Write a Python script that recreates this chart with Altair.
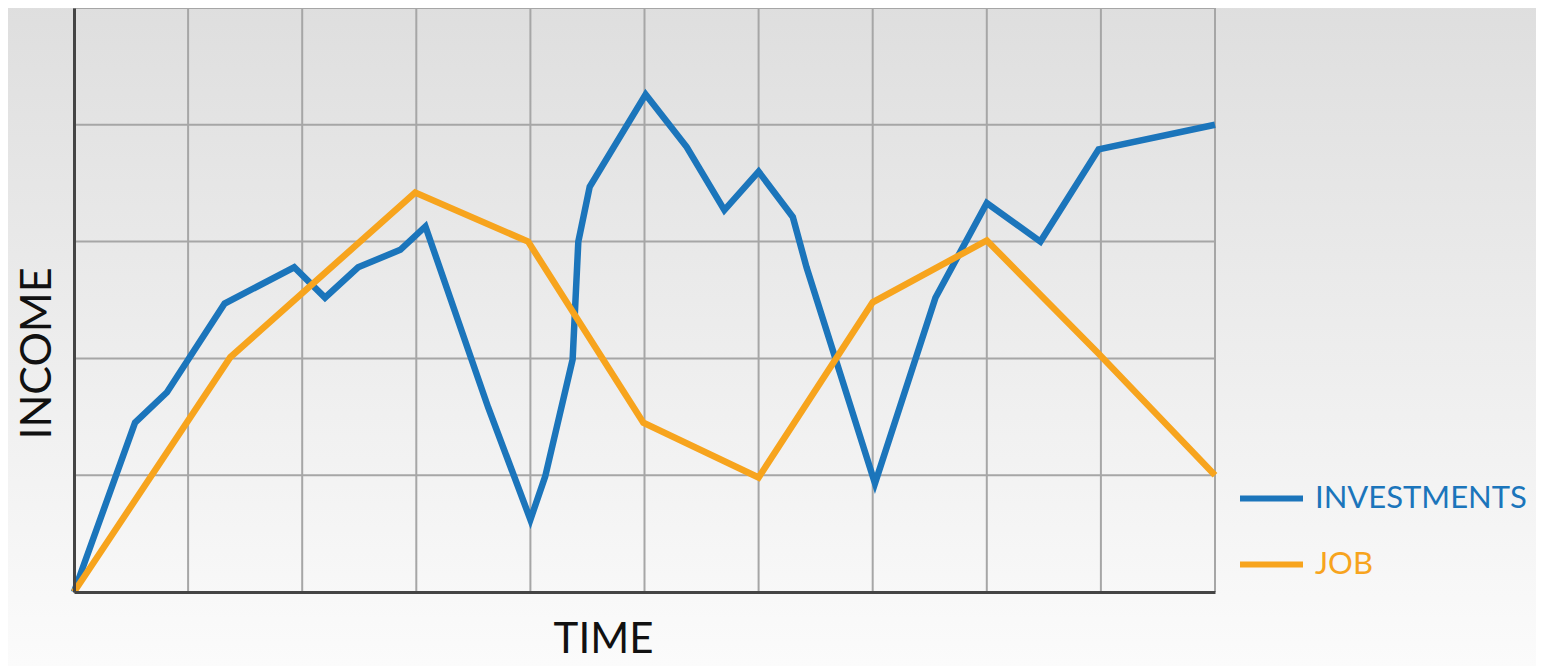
import altair as alt
import pandas as pd

# ---- data (x: time grid units, y: income grid units) ----
inv_t = [0, 0.535, 0.815, 1.32, 1.93, 2.20, 2.49, 2.86, 3.08, 3.63, 4.00, 4.13, 4.37, 4.42,
         4.52, 5.01, 5.37, 5.70, 6.00, 6.30, 6.42, 7.02, 7.55, 8.00, 8.47, 8.98, 10.0]
inv_v = [0, 1.45, 1.71, 2.47, 2.78, 2.52, 2.78, 2.93, 3.13, 1.58, 0.62, 0.99, 1.99, 3.00,
         3.47, 4.26, 3.81, 3.27, 3.60, 3.21, 2.78, 0.93, 2.52, 3.33, 3.00, 3.79, 4.00]
job_t = [0, 1.37, 2.99, 3.98, 4.99, 6.00, 7.00, 8.00, 8.97, 10.0]
job_v = [0, 2.01, 3.42, 3.00, 1.45, 0.98, 2.48, 3.01, 2.05, 1.00]

series_names = ["INVESTMENTS", "JOB"]
series_colors = ["#1b75bb", "#f7a41d"]

x_grid = list(range(0, 11))
y_grid = list(range(0, 6))

W, H = 1141, 584
PAD = {"left": 66, "top": 0, "right": 321, "bottom": 74}

rows = []
for i, (t, v) in enumerate(zip(inv_t, inv_v)):
    rows.append({"series": "INVESTMENTS", "t": t, "v": v, "idx": i})
for i, (t, v) in enumerate(zip(job_t, job_v)):
    rows.append({"series": "JOB", "t": t, "v": v, "idx": i})
df = pd.DataFrame(rows)

xscale = alt.Scale(domain=[0, 10], nice=False, zero=False)
yscale = alt.Scale(domain=[0, 5], nice=False, zero=False)

x_axis = alt.Axis(title="TIME", grid=False, ticks=False, labels=False,
                  domainColor="#444444", domainWidth=3, zindex=1,
                  titleFont="Lato", titleFontSize=42, titleFontWeight="normal",
                  titleColor="#111111", titleX=529, titleY=60,
                  titleBaseline="alphabetic", titleAlign="center")
y_axis = alt.Axis(title="INCOME", grid=False, ticks=False, labels=False,
                  domainColor="#444444", domainWidth=3, zindex=1,
                  titleFont="Lato", titleFontSize=43, titleFontWeight="normal",
                  titleColor="#111111", titleX=-24, titleY=345,
                  titleBaseline="alphabetic", titleAlign="center",
                  titleAngle=270)

gradient = alt.LinearGradient(
    gradient="linear",
    stops=[alt.GradientStop(color="#dedede", offset=0),
           alt.GradientStop(color="#ebebeb", offset=0.45),
           alt.GradientStop(color="#fbfbfb", offset=1)],
    x1=0, x2=0, y1=0, y2=1,
)

bg = alt.Chart(pd.DataFrame({"k": [0]})).mark_rect(color=gradient).encode(
    x=alt.value(-PAD["left"]), x2=alt.value(W + PAD["right"]),
    y=alt.value(-8), y2=alt.value(H + PAD["bottom"]),
)

vgrid = alt.Chart(pd.DataFrame({"g": x_grid})).mark_rule(
    color="#a6a6a6", strokeWidth=2
).encode(
    x=alt.X("g:Q", scale=xscale, axis=x_axis, title="TIME"),
    y=alt.value(0), y2=alt.value(H),
)

hgrid = alt.Chart(pd.DataFrame({"g": y_grid})).mark_rule(
    color="#a6a6a6", strokeWidth=2
).encode(
    y=alt.Y("g:Q", scale=yscale, axis=y_axis, title="INCOME"),
    x=alt.value(0), x2=alt.value(W),
)

lines = alt.Chart(df).mark_line(strokeWidth=6.5, strokeJoin="miter").encode(
    x=alt.X("t:Q", scale=xscale, axis=x_axis, title="TIME"),
    y=alt.Y("v:Q", scale=yscale, axis=y_axis, title="INCOME"),
    color=alt.Color("series:N",
                    scale=alt.Scale(domain=series_names, range=series_colors),
                    legend=alt.Legend(
                        title=None, orient="none", legendX=1163, legendY=456,
                        symbolType="stroke", symbolStrokeWidth=6, symbolSize=3969,
                        labelFont="Lato", labelFontSize=31, labelOffset=9,
                        labelLimit=0, rowPadding=16,
                        labelColor={"expr": "scale('color', datum.value)"},
                    )),
    order=alt.Order("idx:Q"),
)

chart = alt.layer(bg, vgrid, hgrid, lines).properties(
    width=W, height=H,
    autosize=alt.AutoSizeParams(type="none"),
    padding=PAD,
).configure_view(stroke=None).configure(background="#f0f0f0")

chart.save("out.html", embed_options={"renderer": "svg", "actions": False})
